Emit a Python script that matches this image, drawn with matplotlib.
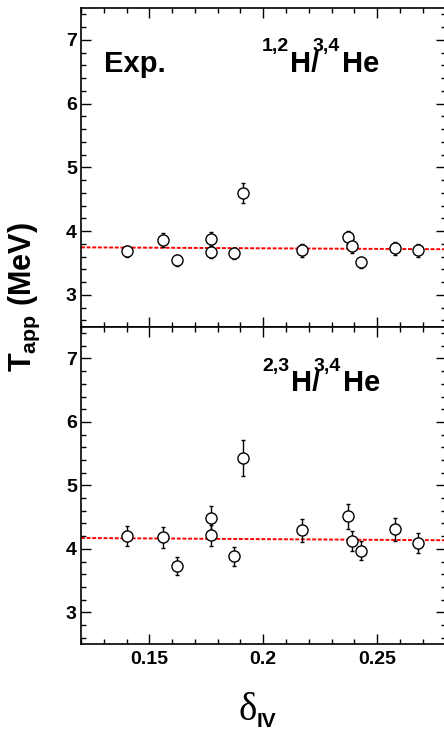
import matplotlib
matplotlib.use("Agg")
import matplotlib.pyplot as plt
from matplotlib.ticker import MultipleLocator, FixedLocator
import numpy as np

plt.rcParams['font.family'] = ['Liberation Sans', 'DejaVu Sans']
plt.rcParams['mathtext.fontset'] = 'custom'
plt.rcParams['mathtext.rm'] = 'Liberation Sans'
plt.rcParams['mathtext.bf'] = 'Liberation Sans:bold'
plt.rcParams['mathtext.it'] = 'Liberation Sans:italic'

# ---- data ----
delta_iv = [0.140, 0.156, 0.162, 0.177, 0.177, 0.187, 0.191, 0.217, 0.237, 0.239, 0.243, 0.258, 0.268]
t_h12 = [3.68, 3.86, 3.54, 3.87, 3.67, 3.65, 4.60, 3.70, 3.90, 3.76, 3.51, 3.73, 3.70]
e_h12 = [0.09, 0.11, 0.09, 0.11, 0.10, 0.09, 0.16, 0.10, 0.10, 0.11, 0.09, 0.10, 0.10]
t_h23 = [4.20, 4.18, 3.73, 4.48, 4.21, 3.88, 5.43, 4.29, 4.51, 4.12, 3.97, 4.31, 4.09]
e_h23 = [0.16, 0.16, 0.14, 0.19, 0.17, 0.15, 0.28, 0.18, 0.19, 0.16, 0.15, 0.18, 0.16]
fit_x = [0.12, 0.28]
fit_h12 = [3.745, 3.715]
fit_h23 = [4.17, 4.135]
xticks = [0.15, 0.2, 0.25]
xticklabels = ['0.15', '0.2', '0.25']
yticks = [3, 4, 5, 6, 7]
yticklabels = ['3', '4', '5', '6', '7']
label_top = ['1,2', 'H/', '3,4', 'He']
label_bot = ['2,3', 'H/', '3,4', 'He']

W, H = 444, 733
fig = plt.figure(figsize=(W / 100, H / 100), dpi=100)

left = 81 / W
right = 445.5 / W
top_y = 8
mid_y = 326.7
bot_y = 644

def fy(p):
    return 1 - p / H

ax1 = fig.add_axes([left, fy(mid_y), right - left, (mid_y - top_y) / H])
ax2 = fig.add_axes([left, fy(bot_y), right - left, (bot_y - mid_y) / H])

panels = [(ax1, t_h12, e_h12, fit_h12), (ax2, t_h23, e_h23, fit_h23)]
for ax, t, e, fit in panels:
    ax.plot(fit_x, fit, color='red', lw=1.4, linestyle=(0, (2.0, 0.9)), zorder=1)
    ax.errorbar(delta_iv, t, yerr=e, fmt='o', ms=8, mfc='white', mec='black',
                mew=1.0, ecolor='black', elinewidth=1.0, capsize=1.5, capthick=1.0, zorder=3)
    ax.set_xlim(0.12, 0.28)
    ax.set_ylim(2.5, 7.5)
    ax.xaxis.set_major_locator(FixedLocator(xticks))
    ax.xaxis.set_minor_locator(MultipleLocator(0.01))
    ax.yaxis.set_major_locator(FixedLocator(yticks))
    ax.yaxis.set_minor_locator(MultipleLocator(0.2))
    ax.set_yticklabels(yticklabels, fontsize=14, fontweight='bold')
    ax.tick_params(which='both', direction='in', top=True, right=True, width=1.0)
    ax.tick_params(which='major', length=7.5, pad=3)
    ax.tick_params(which='minor', length=3.8)
    for s in ax.spines.values():
        s.set_linewidth(1.2)

ax1.tick_params(labelbottom=False)
ax2.set_xticklabels(xticklabels, fontsize=14, fontweight='bold')
ax2.tick_params(axis='x', pad=5)

def compose(parts, xs, base_main, base_sup):
    for i, (txt, x) in enumerate(zip(parts, xs)):
        if i % 2 == 0:
            fig.text(x / W, fy(base_sup), txt, fontsize=14, fontweight='bold',
                     ha='left', va='baseline')
        else:
            fig.text(x / W, fy(base_main), txt, fontsize=21, fontweight='bold',
                     ha='left', va='baseline')

# panel texts
fig.text(104 / W, fy(71.5), 'Exp.', fontsize=21, fontweight='bold', ha='left', va='baseline')
compose(label_top, [262, 290, 313, 342], 71.5, 51.5)
compose(label_bot, [262, 291, 314, 343], 391, 370.5)

# axis titles
fig.text(24 / W, fy(297), r'$\mathbf{T_{app}\ (MeV)}$', fontsize=22, rotation=90,
         ha='center', va='center')
fig.text(257 / W, fy(720), '\u03b4', fontsize=28, family='Liberation Serif',
         ha='right', va='baseline')
fig.text(257 / W, fy(726.7), 'IV', fontsize=15, fontweight='bold', ha='left', va='baseline')

fig.savefig('out.png', dpi=100)
